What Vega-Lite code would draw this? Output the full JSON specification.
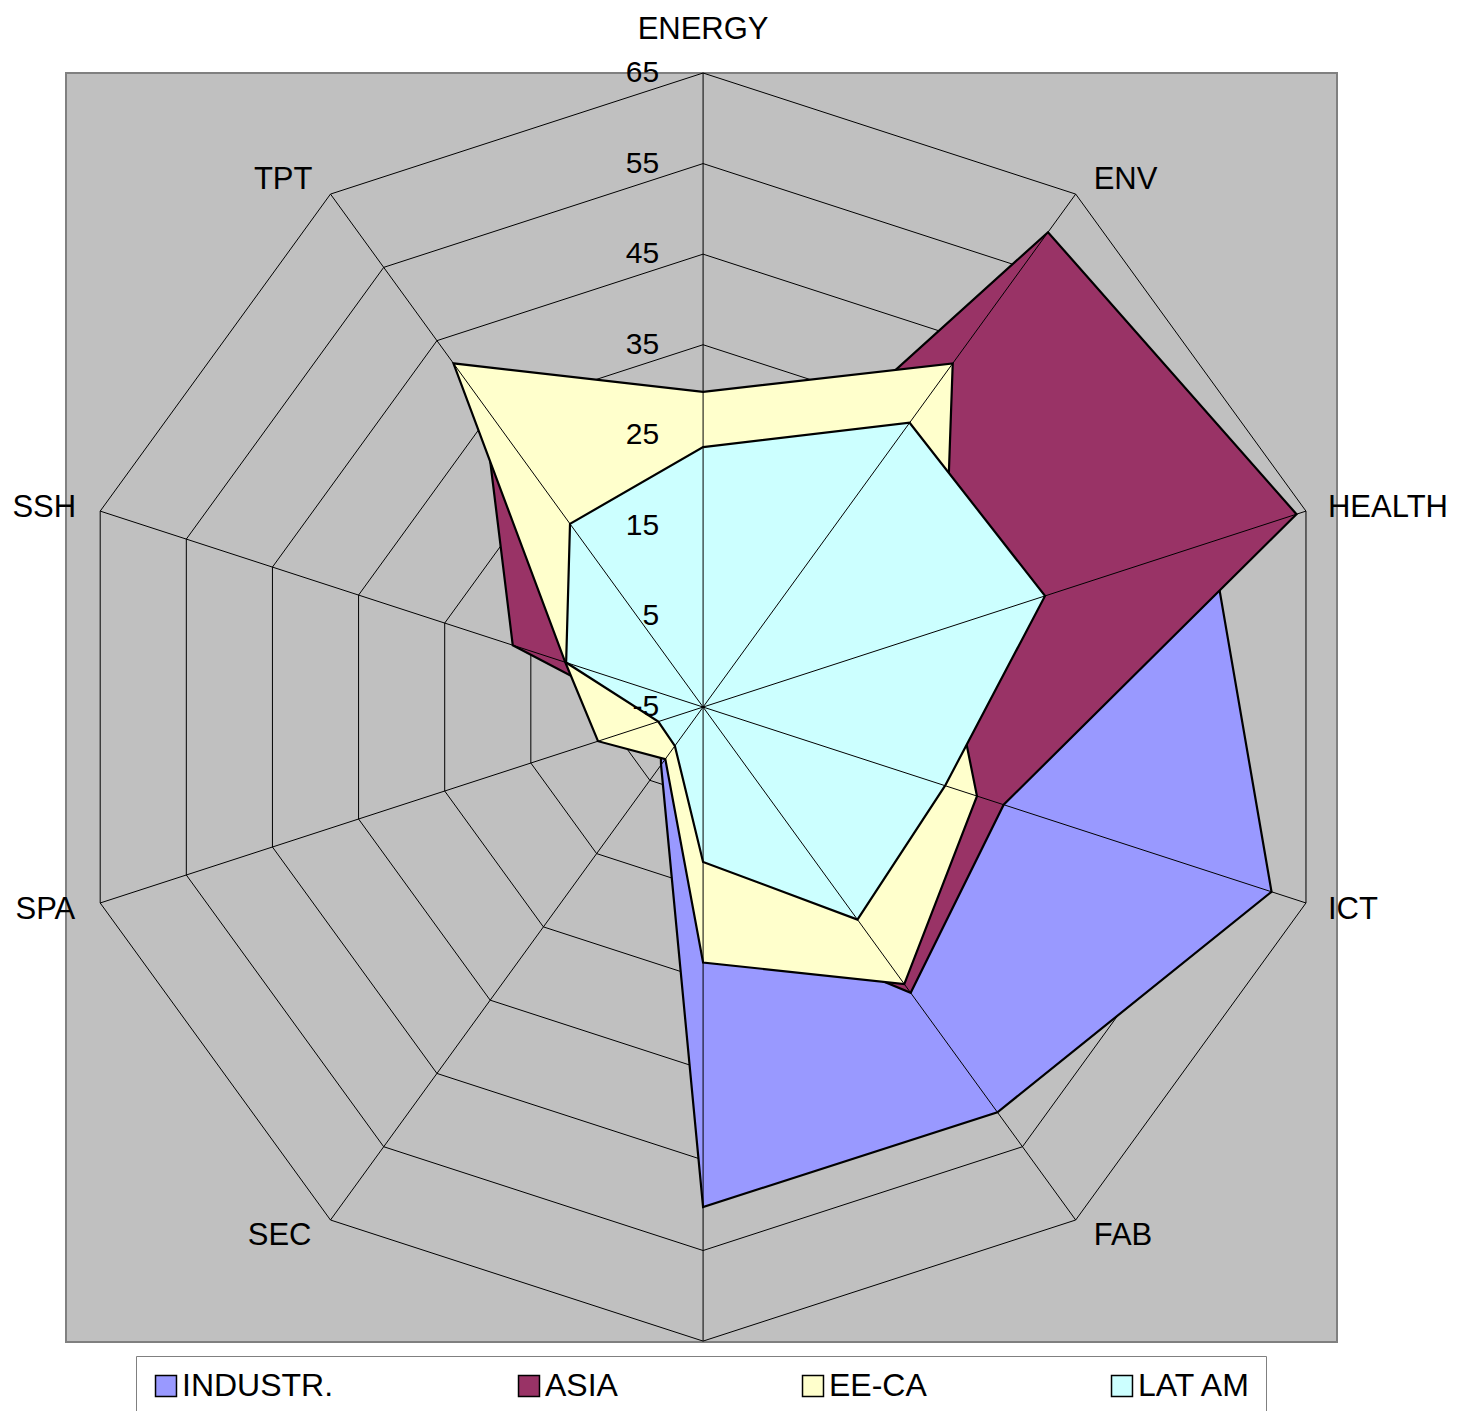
{
  "$schema": "https://vega.github.io/schema/vega-lite/v6.json",
  "width": 1271,
  "height": 1269,
  "autosize": {"type": "none"},
  "padding": {"left": 66, "top": 73, "right": 129, "bottom": 69},
  "background": "white",
  "config": {
    "view": {"fill": "#C0C0C0", "stroke": "#808080", "strokeWidth": 2},
    "font": "Liberation Sans"
  },
  "datasets": {
    "axes": [
      {"axis": "ENERGY", "levels": [-5, 5, 15, 25, 35, 45, 55, 65]},
      {"axis": "ENV", "levels": [-5, 5, 15, 25, 35, 45, 55, 65]},
      {"axis": "HEALTH", "levels": [-5, 5, 15, 25, 35, 45, 55, 65]},
      {"axis": "ICT", "levels": [-5, 5, 15, 25, 35, 45, 55, 65]},
      {"axis": "FAB", "levels": [-5, 5, 15, 25, 35, 45, 55, 65]},
      {"axis": "NMP", "levels": [-5, 5, 15, 25, 35, 45, 55, 65]},
      {"axis": "SEC", "levels": [-5, 5, 15, 25, 35, 45, 55, 65]},
      {"axis": "SPA", "levels": [-5, 5, 15, 25, 35, 45, 55, 65]},
      {"axis": "SSH", "levels": [-5, 5, 15, 25, 35, 45, 55, 65]},
      {"axis": "TPT", "levels": [-5, 5, 15, 25, 35, 45, 55, 65]}
    ],
    "scores": [
      {"series": "INDUSTR.", "axis": "ENERGY", "value": 15},
      {"series": "INDUSTR.", "axis": "ENV", "value": 30},
      {"series": "INDUSTR.", "axis": "HEALTH", "value": 54},
      {"series": "INDUSTR.", "axis": "ICT", "value": 61},
      {"series": "INDUSTR.", "axis": "FAB", "value": 50.3},
      {"series": "INDUSTR.", "axis": "NMP", "value": 50.2},
      {"series": "INDUSTR.", "axis": "SEC", "value": 2.9},
      {"series": "INDUSTR.", "axis": "SPA", "value": 0},
      {"series": "INDUSTR.", "axis": "SSH", "value": 5},
      {"series": "INDUSTR.", "axis": "TPT", "value": 10},
      {"series": "ASIA", "axis": "ENERGY", "value": 13},
      {"series": "ASIA", "axis": "ENV", "value": 59.8},
      {"series": "ASIA", "axis": "HEALTH", "value": 63.9},
      {"series": "ASIA", "axis": "ICT", "value": 29.9},
      {"series": "ASIA", "axis": "FAB", "value": 34},
      {"series": "ASIA", "axis": "NMP", "value": 17},
      {"series": "ASIA", "axis": "SEC", "value": 0},
      {"series": "ASIA", "axis": "SPA", "value": 0.2},
      {"series": "ASIA", "axis": "SSH", "value": 17.1},
      {"series": "ASIA", "axis": "TPT", "value": 36.3},
      {"series": "EE-CA", "axis": "ENERGY", "value": 29.8},
      {"series": "EE-CA", "axis": "ENV", "value": 41.9},
      {"series": "EE-CA", "axis": "HEALTH", "value": 22.9},
      {"series": "EE-CA", "axis": "ICT", "value": 26.8},
      {"series": "EE-CA", "axis": "FAB", "value": 32.8},
      {"series": "EE-CA", "axis": "NMP", "value": 23.2},
      {"series": "EE-CA", "axis": "SEC", "value": 2.1},
      {"series": "EE-CA", "axis": "SPA", "value": 7.2},
      {"series": "EE-CA", "axis": "SSH", "value": 11},
      {"series": "EE-CA", "axis": "TPT", "value": 41.9},
      {"series": "LAT AM", "axis": "ENERGY", "value": 23.7},
      {"series": "LAT AM", "axis": "ENV", "value": 33.8},
      {"series": "LAT AM", "axis": "HEALTH", "value": 34.7},
      {"series": "LAT AM", "axis": "ICT", "value": 23.1},
      {"series": "LAT AM", "axis": "FAB", "value": 24},
      {"series": "LAT AM", "axis": "NMP", "value": 12.1},
      {"series": "LAT AM", "axis": "SEC", "value": 0.3},
      {"series": "LAT AM", "axis": "SPA", "value": 0.2},
      {"series": "LAT AM", "axis": "SSH", "value": 10.9},
      {"series": "LAT AM", "axis": "TPT", "value": 20}
    ]
  },
  "layer": [
    {
      "data": {"name": "axes"},
      "transform": [
        {"calculate": "indexof(['ENERGY','ENV','HEALTH','ICT','FAB','NMP','SEC','SPA','SSH','TPT'], datum.axis)", "as": "order"},
        {"flatten": ["levels"], "as": ["level"]},
        {"filter": "datum.level > -5"},
        {"calculate": "(datum.level + 5) * sin(datum.order * PI / 5)", "as": "px"},
        {"calculate": "(datum.level + 5) * cos(datum.order * PI / 5)", "as": "py"}
      ],
      "mark": {"type": "line", "interpolate": "linear-closed", "stroke": "black", "strokeWidth": 1},
      "encoding": {
        "x": {"field": "px", "type": "quantitative", "scale": {"domain": [-70.35, 70], "nice": false, "zero": false}, "axis": null},
        "y": {"field": "py", "type": "quantitative", "scale": {"domain": [-70.1, 70], "nice": false, "zero": false}, "axis": null},
        "detail": {"field": "level", "type": "nominal"},
        "order": {"field": "order", "type": "quantitative"}
      }
    },
    {
      "data": {"name": "scores"},
      "transform": [
        {"calculate": "indexof(['ENERGY','ENV','HEALTH','ICT','FAB','NMP','SEC','SPA','SSH','TPT'], datum.axis)", "as": "order"},
        {"calculate": "(datum.value + 5) * sin(datum.order * PI / 5)", "as": "px"},
        {"calculate": "(datum.value + 5) * cos(datum.order * PI / 5)", "as": "py"}
      ],
      "mark": {"type": "line", "interpolate": "linear-closed", "filled": true, "stroke": "black", "strokeWidth": 2.2, "strokeJoin": "miter"},
      "encoding": {
        "x": {"field": "px", "type": "quantitative", "axis": null},
        "y": {"field": "py", "type": "quantitative", "axis": null},
        "order": {"field": "order", "type": "quantitative"},
        "color": {
          "field": "series", "type": "nominal",
          "sort": ["INDUSTR.", "ASIA", "EE-CA", "LAT AM"],
          "scale": {"domain": ["INDUSTR.", "ASIA", "EE-CA", "LAT AM"], "range": ["#9999FF", "#993366", "#FFFFCC", "#CCFFFF"]},
          "legend": {
            "title": null, "orient": "none", "legendX": 70, "legendY": 1283,
            "direction": "horizontal", "columnPadding": 179,
            "symbolType": "square", "symbolSize": 440, "symbolStrokeColor": "black", "symbolStrokeWidth": 1.5,
            "labelFontSize": 32, "labelColor": "black", "labelOffset": 0, "labelLimit": 400,
            "padding": 14, "strokeColor": "#808080", "fillColor": "white"
          }
        }
      }
    },
    {
      "data": {"name": "axes"},
      "transform": [
        {"calculate": "indexof(['ENERGY','ENV','HEALTH','ICT','FAB','NMP','SEC','SPA','SSH','TPT'], datum.axis)", "as": "order"},
        {"calculate": "70 * sin(datum.order * PI / 5)", "as": "px"},
        {"calculate": "70 * cos(datum.order * PI / 5)", "as": "py"},
        {"calculate": "0", "as": "zero"}
      ],
      "mark": {"type": "rule", "stroke": "black", "strokeWidth": 1},
      "encoding": {
        "x": {"field": "px", "type": "quantitative", "axis": null},
        "y": {"field": "py", "type": "quantitative", "axis": null},
        "x2": {"field": "zero"},
        "y2": {"field": "zero"}
      }
    },
    {
      "data": {"name": "axes"},
      "transform": [
        {"filter": "datum.axis === 'ENERGY'"},
        {"flatten": ["levels"], "as": ["level"]},
        {"calculate": "datum.level + 5", "as": "py"},
        {"calculate": "0", "as": "zero"}
      ],
      "mark": {"type": "text", "align": "right", "baseline": "middle", "dx": -44, "fontSize": 30, "font": "Liberation Sans", "color": "black"},
      "encoding": {
        "x": {"field": "zero", "type": "quantitative", "axis": null},
        "y": {"field": "py", "type": "quantitative", "axis": null},
        "text": {"field": "level", "type": "nominal"}
      }
    },
    {
      "data": {"name": "axes"},
      "transform": [
        {"filter": "datum.axis === 'ENERGY'"},
        {"calculate": "0", "as": "px"},
        {"calculate": "70", "as": "py"}
      ],
      "mark": {"type": "text", "align": "center", "baseline": "middle", "dy": -43, "fontSize": 31, "font": "Liberation Sans", "color": "black"},
      "encoding": {
        "x": {"field": "px", "type": "quantitative", "axis": null},
        "y": {"field": "py", "type": "quantitative", "axis": null},
        "text": {"field": "axis", "type": "nominal"}
      }
    },
    {
      "data": {"name": "axes"},
      "transform": [
        {"filter": "datum.axis === 'ENV'"},
        {"calculate": "70 * sin(PI / 5)", "as": "px"},
        {"calculate": "70 * cos(PI / 5)", "as": "py"}
      ],
      "mark": {"type": "text", "align": "left", "baseline": "middle", "dx": 18, "dy": -14, "fontSize": 31, "font": "Liberation Sans", "color": "black"},
      "encoding": {
        "x": {"field": "px", "type": "quantitative", "axis": null},
        "y": {"field": "py", "type": "quantitative", "axis": null},
        "text": {"field": "axis", "type": "nominal"}
      }
    },
    {
      "data": {"name": "axes"},
      "transform": [
        {"filter": "datum.axis === 'HEALTH'"},
        {"calculate": "70 * sin(2 * PI / 5)", "as": "px"},
        {"calculate": "70 * cos(2 * PI / 5)", "as": "py"}
      ],
      "mark": {"type": "text", "align": "left", "baseline": "middle", "dx": 22, "dy": -3, "fontSize": 31, "font": "Liberation Sans", "color": "black"},
      "encoding": {
        "x": {"field": "px", "type": "quantitative", "axis": null},
        "y": {"field": "py", "type": "quantitative", "axis": null},
        "text": {"field": "axis", "type": "nominal"}
      }
    },
    {
      "data": {"name": "axes"},
      "transform": [
        {"filter": "datum.axis === 'ICT'"},
        {"calculate": "70 * sin(3 * PI / 5)", "as": "px"},
        {"calculate": "70 * cos(3 * PI / 5)", "as": "py"}
      ],
      "mark": {"type": "text", "align": "left", "baseline": "middle", "dx": 22, "dy": 7, "fontSize": 31, "font": "Liberation Sans", "color": "black"},
      "encoding": {
        "x": {"field": "px", "type": "quantitative", "axis": null},
        "y": {"field": "py", "type": "quantitative", "axis": null},
        "text": {"field": "axis", "type": "nominal"}
      }
    },
    {
      "data": {"name": "axes"},
      "transform": [
        {"filter": "datum.axis === 'FAB'"},
        {"calculate": "70 * sin(4 * PI / 5)", "as": "px"},
        {"calculate": "70 * cos(4 * PI / 5)", "as": "py"}
      ],
      "mark": {"type": "text", "align": "left", "baseline": "middle", "dx": 18, "dy": 16, "fontSize": 31, "font": "Liberation Sans", "color": "black"},
      "encoding": {
        "x": {"field": "px", "type": "quantitative", "axis": null},
        "y": {"field": "py", "type": "quantitative", "axis": null},
        "text": {"field": "axis", "type": "nominal"}
      }
    },
    {
      "data": {"name": "axes"},
      "transform": [
        {"filter": "datum.axis === 'SEC'"},
        {"calculate": "70 * sin(6 * PI / 5)", "as": "px"},
        {"calculate": "70 * cos(6 * PI / 5)", "as": "py"}
      ],
      "mark": {"type": "text", "align": "right", "baseline": "middle", "dx": -19, "dy": 16, "fontSize": 31, "font": "Liberation Sans", "color": "black"},
      "encoding": {
        "x": {"field": "px", "type": "quantitative", "axis": null},
        "y": {"field": "py", "type": "quantitative", "axis": null},
        "text": {"field": "axis", "type": "nominal"}
      }
    },
    {
      "data": {"name": "axes"},
      "transform": [
        {"filter": "datum.axis === 'SPA'"},
        {"calculate": "70 * sin(7 * PI / 5)", "as": "px"},
        {"calculate": "70 * cos(7 * PI / 5)", "as": "py"}
      ],
      "mark": {"type": "text", "align": "right", "baseline": "middle", "dx": -25, "dy": 7, "fontSize": 31, "font": "Liberation Sans", "color": "black"},
      "encoding": {
        "x": {"field": "px", "type": "quantitative", "axis": null},
        "y": {"field": "py", "type": "quantitative", "axis": null},
        "text": {"field": "axis", "type": "nominal"}
      }
    },
    {
      "data": {"name": "axes"},
      "transform": [
        {"filter": "datum.axis === 'SSH'"},
        {"calculate": "70 * sin(8 * PI / 5)", "as": "px"},
        {"calculate": "70 * cos(8 * PI / 5)", "as": "py"}
      ],
      "mark": {"type": "text", "align": "right", "baseline": "middle", "dx": -24, "dy": -3, "fontSize": 31, "font": "Liberation Sans", "color": "black"},
      "encoding": {
        "x": {"field": "px", "type": "quantitative", "axis": null},
        "y": {"field": "py", "type": "quantitative", "axis": null},
        "text": {"field": "axis", "type": "nominal"}
      }
    },
    {
      "data": {"name": "axes"},
      "transform": [
        {"filter": "datum.axis === 'TPT'"},
        {"calculate": "70 * sin(9 * PI / 5)", "as": "px"},
        {"calculate": "70 * cos(9 * PI / 5)", "as": "py"}
      ],
      "mark": {"type": "text", "align": "right", "baseline": "middle", "dx": -18, "dy": -14, "fontSize": 31, "font": "Liberation Sans", "color": "black"},
      "encoding": {
        "x": {"field": "px", "type": "quantitative", "axis": null},
        "y": {"field": "py", "type": "quantitative", "axis": null},
        "text": {"field": "axis", "type": "nominal"}
      }
    }
  ]
}
